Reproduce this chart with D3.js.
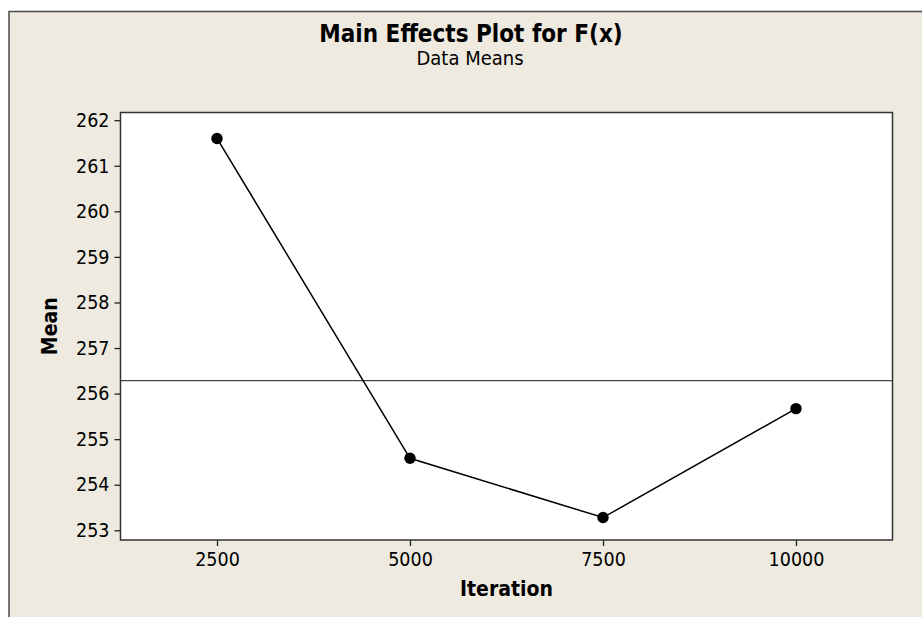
<!DOCTYPE html>
<html>
<head>
<meta charset="utf-8">
<script src="https://cdn.jsdelivr.net/npm/d3@7"></script>
<style>
  html, body { margin: 0; padding: 0; background: #ffffff; }
  svg { display: block; }
  text { font-family: "DejaVu Sans Condensed", "DejaVu Sans", sans-serif; fill: #000; }
</style>
</head>
<body>
<script>
// Factor levels of Iteration and the mean response at each level
const levels = ["2500", "5000", "7500", "10000"];
const means = [261.60, 254.58, 253.28, 255.67];
const yTicks = [253, 254, 255, 256, 257, 258, 259, 260, 261, 262];
const grandMean = d3.mean(means);

const W = 922, H = 617;
const plot = { left: 120.5, top: 112.5, right: 892.5, bottom: 540 };

const svg = d3.select("body").append("svg")
  .attr("width", W).attr("height", H);

// Page background and outer frame
svg.append("rect").attr("x", 0).attr("y", 0).attr("width", W).attr("height", H).attr("fill", "#ffffff");
svg.append("rect")
  .attr("x", 9).attr("y", 11.5).attr("width", W + 20).attr("height", H + 20)
  .attr("fill", "#eeeae0").attr("stroke", "#4a4a4a").attr("stroke-width", 1.5);

// Plot area
svg.append("rect")
  .attr("x", plot.left).attr("y", plot.top)
  .attr("width", plot.right - plot.left).attr("height", plot.bottom - plot.top)
  .attr("fill", "#ffffff");

const x = d3.scalePoint().domain(levels).range([plot.left, plot.right]).padding(0.5);
const y = d3.scaleLinear().domain([252.787, 262.169]).range([plot.bottom, plot.top]);

// Axes
const yAxis = svg.append("g")
  .attr("transform", `translate(${plot.left},0)`)
  .call(d3.axisLeft(y).tickValues(yTicks).tickFormat(d3.format("d")).tickSize(6).tickPadding(5));
const xAxis = svg.append("g")
  .attr("transform", `translate(0,${plot.bottom})`)
  .call(d3.axisBottom(x).tickSize(6).tickPadding(6));

[yAxis, xAxis].forEach(g => {
  g.select(".domain").remove();
  g.selectAll(".tick line").attr("stroke", "#222").attr("stroke-width", 1.3);
  g.selectAll(".tick text")
    .attr("font-family", "DejaVu Sans Condensed, DejaVu Sans, sans-serif")
    .attr("font-size", 19.5).attr("fill", "#111");
});

// Grand mean reference line
svg.append("line")
  .attr("x1", plot.left).attr("x2", plot.right)
  .attr("y1", y(grandMean)).attr("y2", y(grandMean))
  .attr("stroke", "#444").attr("stroke-width", 1.3);

// Main effect line and level means
const pts = levels.map((l, i) => [x(l), y(means[i])]);
svg.append("path")
  .attr("d", d3.line()(pts))
  .attr("fill", "none").attr("stroke", "#000").attr("stroke-width", 1.5);
svg.selectAll("circle.pt").data(pts).join("circle")
  .attr("class", "pt")
  .attr("cx", d => d[0]).attr("cy", d => d[1]).attr("r", 5.7)
  .attr("fill", "#000");

// Plot border on top
svg.append("rect")
  .attr("x", plot.left).attr("y", plot.top)
  .attr("width", plot.right - plot.left).attr("height", plot.bottom - plot.top)
  .attr("fill", "none").attr("stroke", "#333").attr("stroke-width", 1.5);

// Titles
svg.append("text")
  .attr("x", 471).attr("y", 42)
  .attr("text-anchor", "middle").attr("font-weight", "bold").attr("font-size", 24)
  .text("Main Effects Plot for F(x)");
svg.append("text")
  .attr("x", 470).attr("y", 65)
  .attr("text-anchor", "middle").attr("font-size", 20)
  .text("Data Means");

svg.append("text")
  .attr("x", (plot.left + plot.right) / 2).attr("y", 596)
  .attr("text-anchor", "middle").attr("font-weight", "bold").attr("font-size", 21)
  .text("Iteration");
svg.append("text")
  .attr("transform", `translate(57,${(plot.top + plot.bottom) / 2}) rotate(-90)`)
  .attr("text-anchor", "middle").attr("font-weight", "bold").attr("font-size", 21)
  .text("Mean");
</script>
</body>
</html>
